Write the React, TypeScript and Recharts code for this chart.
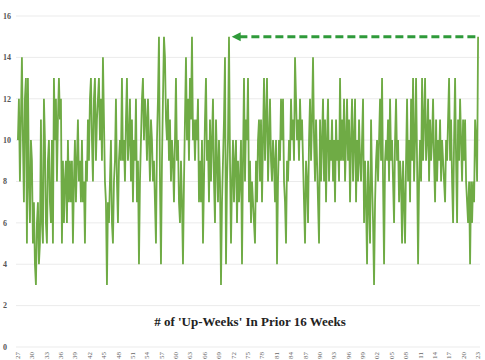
import React from 'react';
import { LineChart, Line, XAxis, YAxis, CartesianGrid, ReferenceLine, ReferenceDot } from 'recharts';

// weekly-ish readings, grouped by decade
const weeks1927 = [10, 12, 8, 11, 14, 10, 7, 12, 13, 5, 13, 8, 6, 10];
const weeks1930s = [9, 5, 7, 4, 3, 6, 7, 4, 5, 11, 6, 5, 12, 10, 6, 5, 9, 10, 7, 6, 10, 5, 13, 10, 12, 8, 11, 13, 11, 12, 5, 9, 6, 8, 9, 6, 10, 7, 9, 7, 9, 5, 8, 10, 7, 9, 11, 8];
const weeks1940s = [9, 7, 10, 7, 8, 5, 9, 8, 11, 9, 12, 13, 10, 8, 12, 13, 9, 11, 12, 13, 10, 12, 9, 14, 11, 8, 7, 3, 7, 6, 8, 10, 6, 5, 8, 9, 12, 8, 6, 9, 10, 9, 13, 9, 10, 8, 11, 13];
const weeks1950s = [9, 10, 12, 8, 11, 7, 10, 9, 12, 7, 9, 4, 8, 10, 12, 13, 10, 12, 11, 9, 12, 10, 8, 11, 10, 8, 9, 7, 5, 10, 12, 15, 8, 4, 9, 12, 15, 14, 11, 10, 12, 9, 11, 8, 10, 9, 7, 10];
const weeks1960s = [13, 9, 10, 7, 6, 9, 7, 4, 8, 11, 14, 10, 12, 9, 13, 11, 15, 10, 11, 9, 11, 10, 12, 7, 9, 7, 10, 5, 8, 11, 13, 9, 10, 7, 11, 8, 10, 12, 8, 6, 11, 9, 7, 10, 8, 3, 7, 9];
const weeks1970s = [11, 14, 4, 8, 10, 15, 9, 5, 8, 10, 7, 9, 10, 6, 9, 7, 8, 10, 4, 9, 13, 8, 11, 10, 13, 7, 9, 6, 8, 7, 6, 5, 9, 7, 10, 11, 8, 11, 7, 10, 13, 9, 11, 13, 8, 10, 12, 9];
const weeks1980s = [8, 10, 9, 7, 10, 4, 8, 10, 9, 12, 10, 12, 8, 7, 5, 9, 8, 10, 9, 12, 10, 11, 9, 14, 12, 10, 11, 9, 12, 10, 11, 9, 7, 5, 9, 8, 6, 10, 12, 9, 11, 14, 10, 8, 11, 9, 7, 5];
const weeks1990s = [11, 8, 10, 12, 8, 11, 7, 10, 12, 8, 10, 9, 11, 8, 10, 7, 11, 9, 10, 8, 13, 9, 11, 9, 12, 8, 10, 12, 9, 11, 7, 10, 12, 8, 10, 12, 7, 10, 8, 11, 9, 8, 10, 12, 6, 9, 7, 4];
const weeks2000s = [9, 7, 5, 11, 8, 6, 3, 7, 9, 10, 8, 10, 12, 9, 13, 8, 4, 9, 10, 9, 11, 8, 12, 9, 10, 8, 6, 10, 12, 9, 10, 7, 9, 8, 5, 9, 7, 5, 9, 12, 8, 10, 7, 12, 9, 13, 8, 10];
const weeks2010s = [13, 9, 4, 8, 10, 8, 13, 9, 11, 13, 9, 10, 12, 8, 11, 9, 10, 12, 9, 7, 11, 8, 10, 9, 11, 8, 10, 9, 8, 7, 10, 9, 11, 13, 9, 11, 8, 6, 10, 13, 9, 6, 11, 9, 12, 10, 8, 11];
const weeks2020s = [9, 11, 8, 7, 6, 8, 4, 8, 6, 8, 7, 11, 10, 8, 15];

const yearTicks = [1927, 1930, 1933, 1936, 1939, 1942, 1945, 1948, 1951, 1954, 1957, 1960, 1963, 1966, 1969, 1972, 1975, 1978, 1981, 1984, 1987, 1990, 1993, 1996, 1999, 2002, 2005, 2008, 2011, 2014, 2017, 2020, 2023];
const countTicks = [0, 2, 4, 6, 8, 10, 12, 14, 16];

// the "highest since" arrow
const arrowTip = 1971.6;
const arrowEnd = 2022.8;
const arrowLevel = 15;

const FIRST = 1927;
const LAST = 2023;

const upWeeks = [
  ...weeks1927, ...weeks1930s, ...weeks1940s, ...weeks1950s, ...weeks1960s,
  ...weeks1970s, ...weeks1980s, ...weeks1990s, ...weeks2000s, ...weeks2010s, ...weeks2020s,
];
const data = upWeeks.map((v, i) => ({
  year: FIRST + (i * (LAST - FIRST)) / (upWeeks.length - 1),
  count: v,
}));

const serif = '"Liberation Serif", "DejaVu Serif", serif';

const YearTick = ({ x, y, payload }: any) => (
  <text
    x={x}
    y={y + 3}
    transform={`rotate(-90 ${x} ${y + 3})`}
    textAnchor="end"
    dominantBaseline="central"
    fontSize={7}
    fill="#666"
    fontFamily={serif}
  >
    {String(payload.value).slice(2)}
  </text>
);

const CountTick = ({ y, payload }: any) => (
  <text x={3} y={y} dy="0.35em" textAnchor="start" fontSize={8} fontWeight="bold" fill="#555" fontFamily={serif}>
    {payload.value}
  </text>
);

const ArrowHead = ({ cx, cy }: any) => (
  <polygon points={`${cx},${cy} ${cx + 9},${cy - 4.5} ${cx + 9},${cy + 4.5}`} fill="#2f9a3a" />
);

export default function App() {
  return (
    <div style={{ position: 'relative', width: 485, height: 360 }}>
      <style>{'body{margin:0}'}</style>
      <LineChart width={485} height={360} data={data} margin={{ top: 16, right: 5, bottom: 0, left: 0 }}>
        <CartesianGrid horizontal vertical={false} stroke="#ebebeb" />
        <XAxis
          dataKey="year"
          type="number"
          domain={[1926.6, 2023.4]}
          ticks={yearTicks}
          interval={0}
          tick={<YearTick />}
          tickLine={false}
          axisLine={false}
          tickSize={0}
          height={13}
        />
        <YAxis
          domain={[0, 16]}
          ticks={countTicks}
          width={16}
          tick={<CountTick />}
          tickLine={false}
          axisLine={false}
        />
        <Line
          dataKey="count"
          type="linear"
          stroke="#6fab45"
          strokeWidth={1.8}
          dot={false}
          isAnimationActive={false}
        />
        <ReferenceLine
          segment={[{ x: arrowTip + 1.6, y: arrowLevel }, { x: arrowEnd, y: arrowLevel }]}
          stroke="#2f9a3a"
          strokeWidth={3}
          strokeDasharray="8 4"
        />
        <ReferenceDot x={arrowTip} y={arrowLevel} shape={<ArrowHead />} />
      </LineChart>
      <div
        style={{
          position: 'absolute',
          left: 0,
          width: 500,
          top: 314,
          textAlign: 'center',
          fontFamily: serif,
          fontWeight: 'bold',
          fontSize: 13,
          color: '#222',
        }}
      >
        # of 'Up-Weeks' In Prior 16 Weeks
      </div>
    </div>
  );
}
